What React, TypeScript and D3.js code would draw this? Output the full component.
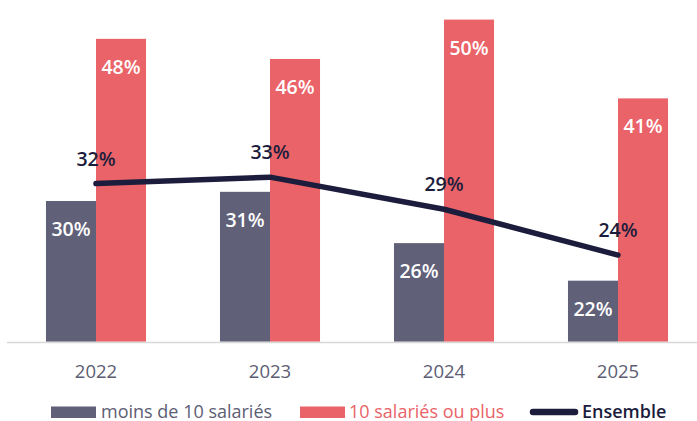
import React from "react";
import * as d3 from "d3";

const years = ["2022", "2023", "2024", "2025"];
const moins10 = [30.2, 31.2, 25.6, 21.5];
const plus10 = [47.9, 45.7, 50.0, 41.4];
const ensemble = [32.1, 32.8, 29.3, 24.3];
const legendLabels = ["moins de 10 salariés", "10 salariés ou plus", "Ensemble"];

const W = 697;
const H = 421;
const GREY = "#606179";
const RED = "#ea6368";
const NAVY = "#1c1d3c";
const AXISTXT = "#5c5d74";
const FONT = "'Open Sans', sans-serif";

export default function App() {
  const x = d3
    .scaleBand<string>()
    .domain(years)
    .range([9, 705])
    .paddingInner(0.425)
    .paddingOuter(0.2125);
  const sub = d3.scaleBand<string>().domain(["a", "b"]).range([0, x.bandwidth()]);
  const y = d3.scaleLinear().domain([14.84, 50]).range([341.7, 19.6]);
  const cx = (yr: string) => (x(yr) as number) + x.bandwidth() / 2;
  const line = d3
    .line<number>()
    .x((_, i) => cx(years[i]))
    .y((d) => y(d));
  const fmt = (v: number) => `${Math.round(v)}%`;

  return (
    <svg
      width={W}
      height={H}
      style={{ position: "absolute", left: 0, top: 0, background: "#fff" }}
      fontFamily={FONT}
    >
      {years.map((yr, i) => {
        const x0 = x(yr) as number;
        const gx = x0 + (sub("a") as number);
        const rx = x0 + (sub("b") as number);
        const bw = sub.bandwidth();
        return (
          <g key={yr}>
            <rect x={gx} y={y(moins10[i])} width={bw} height={y(14.84) - y(moins10[i])} fill={GREY} />
            <rect x={rx} y={y(plus10[i])} width={bw} height={y(14.84) - y(plus10[i])} fill={RED} />
            <text
              x={gx + bw / 2}
              y={y(moins10[i]) + 35}
              textAnchor="middle"
              fill="#fff"
              fontSize={19.5}
              fontWeight={600}
            >
              {fmt(moins10[i])}
            </text>
            <text
              x={rx + bw / 2}
              y={y(plus10[i]) + 35}
              textAnchor="middle"
              fill="#fff"
              fontSize={19.5}
              fontWeight={600}
            >
              {fmt(plus10[i])}
            </text>
            <text
              x={cx(yr)}
              y={378}
              textAnchor="middle"
              fill={AXISTXT}
              fontSize={18.5}
              fontWeight={400}
            >
              {yr}
            </text>
          </g>
        );
      })}
      <line x1={7} x2={697} y1={342.5} y2={342.5} stroke="#d8d8d8" strokeWidth={1.5} />
      <path
        d={line(ensemble) || ""}
        fill="none"
        stroke={NAVY}
        strokeWidth={5.5}
        strokeLinecap="round"
        strokeLinejoin="round"
      />
      {ensemble.map((v, i) => (
        <text
          key={i}
          x={cx(years[i])}
          y={y(v) - 18}
          textAnchor="middle"
          fill={NAVY}
          fontSize={19.5}
          fontWeight={600}
        >
          {fmt(v)}
        </text>
      ))}
      <g>
        <rect x={51} y={406.5} width={45} height={11.5} fill={GREY} />
        <text x={101} y={417.5} fill={AXISTXT} fontSize={18} fontWeight={400}>
          {legendLabels[0]}
        </text>
        <rect x={300} y={406.5} width={45} height={11.5} fill={RED} />
        <text x={349} y={417.5} fill={RED} fontSize={18} fontWeight={400}>
          {legendLabels[1]}
        </text>
        <line x1={533} x2={575} y1={412} y2={412} stroke={NAVY} strokeWidth={6.5} strokeLinecap="round" />
        <text x={582} y={417.5} fill={NAVY} fontSize={18} fontWeight={600}>
          {legendLabels[2]}
        </text>
      </g>
    </svg>
  );
}
